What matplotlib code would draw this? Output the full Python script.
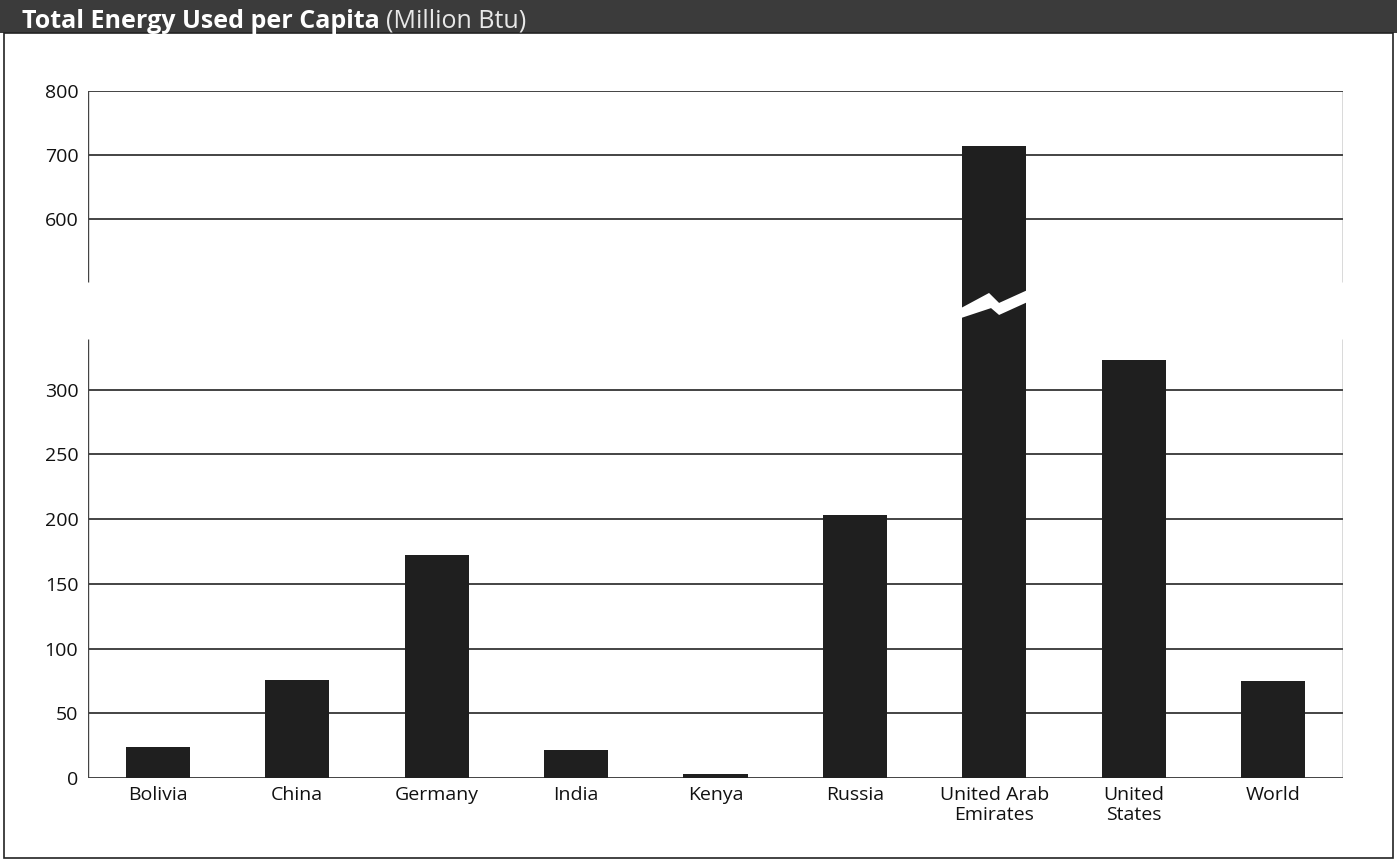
import matplotlib
matplotlib.use("Agg")
import matplotlib.pyplot as plt
import numpy as np
from matplotlib.patches import Rectangle, Polygon

plt.rcParams['font.family'] = ['Open Sans', 'DejaVu Sans']

# data
countries = ["Bolivia", "China", "Germany", "India", "Kenya", "Russia",
             "United Arab\nEmirates", "United\nStates", "World"]
energy = [24, 76, 172, 22, 3, 203, 714, 323, 75]
low_ticks = [0, 50, 100, 150, 200, 250, 300]
high_ticks = [600, 700, 800]

# broken axis: lower part 0-340, upper part 500-800 squeezed
low_top, high_bot, y_max = 340, 500, 800
brk_x = [-1e4, 0, low_top, high_bot, y_max, 1e4]
brk_p = [-1e4 * 1.294, 0, 440, 495, 687, 687 + 9200 * 0.64]


def fwd(y):
    return np.interp(y, brk_x, brk_p)


def inv(p):
    return np.interp(p, brk_p, brk_x)


W, H = 1397, 861
fig = plt.figure(figsize=(W / 100, H / 100), dpi=100)

# title band + frame
fig.patches.append(Rectangle((0, 1 - 33 / H), 1, 33 / H, transform=fig.transFigure,
                             facecolor="#3b3b3b", edgecolor="none", zorder=0))
fig.patches.append(Rectangle((4 / W, 3 / H), 1389 / W, 1 - 36 / H, transform=fig.transFigure,
                             facecolor="none", edgecolor="#222222", linewidth=1.2, zorder=0))

ax = fig.add_axes([88 / W, 1 - 778 / H, 1255 / W, 687 / H])
ax.set_yscale("function", functions=(fwd, inv))
ax.set_ylim(0, y_max)
ax.set_xlim(-0.5, len(countries) - 0.5)

x = np.arange(len(countries))
bw = 0.46
ax.bar(x, energy, width=bw, color="#1f1f1f", zorder=3)

# gridlines
ax.hlines(low_ticks, -0.5, len(countries) - 0.5, color="#111111", linewidth=1.1, zorder=1)
ax.hlines(high_ticks, -0.5, len(countries) - 0.5, color="#111111", linewidth=1.1, zorder=1)
# broken side spines
for xs in (-0.5, len(countries) - 0.5):
    ax.vlines(xs, 0, low_top - 1, color="#444444", linewidth=1.0, zorder=1)
    ax.vlines(xs, high_bot + 2, y_max, color="#444444", linewidth=1.0, zorder=1)

# zigzag break across the tall bar
i = int(np.argmax(energy))
x0, x1 = x[i] - bw / 2 - 0.01, x[i] + bw / 2 + 0.01
w = x1 - x0
zig = [(x0, 427), (x0 + 0.42 * w, 471), (x0 + 0.57 * w, 442), (x1, 480),
       (x1, 445), (x0 + 0.57 * w, 407), (x0 + 0.45 * w, 427), (x0, 398)]
ax.add_patch(Polygon(zig, closed=True, facecolor="white", edgecolor="none", zorder=4))

for s in ax.spines.values():
    s.set_visible(False)
ax.set_yticks(low_ticks + high_ticks)
ax.set_yticklabels([str(t) for t in low_ticks + high_ticks])
ax.set_xticks(x)
ax.set_xticklabels(countries, linespacing=1.1)
ax.tick_params(axis="both", length=0, labelsize=14, colors="#111111")
ax.tick_params(axis="y", pad=7)
ax.tick_params(axis="x", pad=6)

# title
t1 = fig.text(22 / W, 1 - 28 / H, "Total Energy Used per Capita", color="white",
              fontsize=18, fontweight="bold", va="baseline", ha="left")
r = fig.canvas.get_renderer()
bb = t1.get_window_extent(renderer=r)
fig.text(bb.x1 / W + 6 / W, 1 - 28 / H, "(Million Btu)", color="#e8e8e8",
         fontsize=18, va="baseline", ha="left")

fig.savefig("out.png", dpi=100)
